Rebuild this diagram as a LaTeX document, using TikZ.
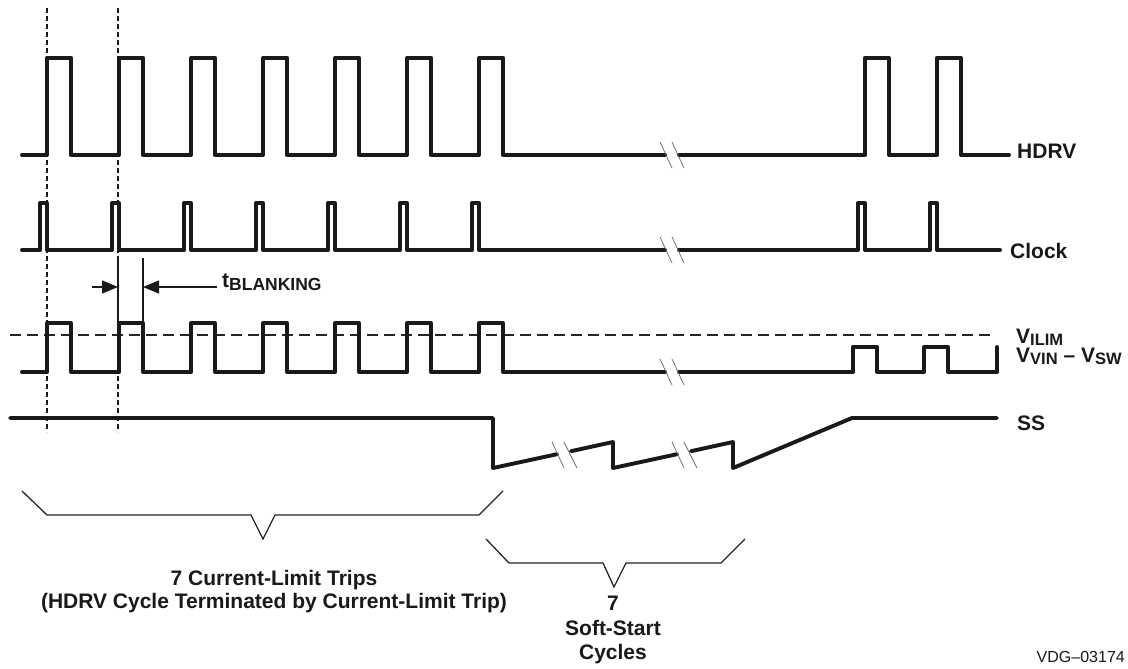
\documentclass[tikz,border=0pt]{standalone}
\usepackage{fontspec}
\setmainfont{Liberation Sans}
\usetikzlibrary{arrows.meta}
\newcommand\lblfont{\fontsize{21}{24}\selectfont\bfseries}
\newcommand\sbs[1]{\raisebox{-2pt}{\fontsize{16.5}{16.5}\selectfont #1}}
\newcommand\sbt[1]{\raisebox{-3pt}{\fontsize{17.5}{17.5}\selectfont #1}}
\begin{document}
\begin{tikzpicture}[x=1pt,y=-1pt,
  wave/.style={line width=3.9pt,line cap=round,line join=round,black!90},
  brk/.style={line width=0.7pt,black!60},
  vdash/.style={line width=1.7pt,dash pattern=on 5pt off 3pt,black!90},
  hdash/.style={line width=1.2pt,dash pattern=on 11pt off 6pt,black!85},
  thinl/.style={line width=1.4pt,black!90},
  brace/.style={line width=1.3pt,black!85},
  lbl/.style={inner sep=0pt,font=\lblfont,text=black!90},
  blk/.style={-{Triangle[length=16pt,width=13pt]},line width=1.4pt,black!90}]
\useasboundingbox (0,0) rectangle (1128,669);
\fill[white] (0,0) rectangle (1128,669);

% vertical dashed reference lines
\draw[vdash] (47,8) -- (47,432);
\draw[vdash] (118,8) -- (118,432);

% HDRV
\draw[wave] (22,155) \foreach \x in {47,119,191,263,335,407,479} { -- (\x,155) -- (\x,58) -- (\x+24,58) -- (\x+24,155) } -- (665,155);
\draw[wave] (679,155) -- (865,155) -- (865,58) -- (889,58) -- (889,155) -- (937,155) -- (937,58) -- (961,58) -- (961,155) -- (1009,155);
\draw[brk] (660,142) -- (672,168);
\draw[brk] (672,142) -- (684,168);
\node[lbl,anchor=base west] (hdrv) at (1017,158) {HDRV};

% Clock
\draw[wave] (22,250) \foreach \x in {47,119,191,263,335,407,479} { -- (\x-7,250) -- (\x-7,203) -- (\x,203) -- (\x,250) } -- (665,250);
\draw[wave] (679,250) -- (858,250) -- (858,203) -- (865,203) -- (865,250) -- (930,250) -- (930,203) -- (937,203) -- (937,250) -- (1000,250);
\draw[brk] (660,237) -- (672,263);
\draw[brk] (672,237) -- (684,263);
\node[lbl,anchor=base west] (clock) at (1010,258) {Clock};

% t blanking
\draw[thinl] (118,258) -- (118,323);
\draw[thinl] (143,258) -- (143,323);
\coordinate (bl1) at (92,287);
\coordinate (bl2) at (217,287);
\coordinate (bt1) at (118,287);
\coordinate (bt2) at (143,287);
\draw[blk] (bl1) -- (bt1);
\draw[blk] (bl2) -- (bt2);
\node[lbl,anchor=base west] (tbl) at (222,287) {t\sbt{BLANKING}};

% V ILIM dashed
\draw[hdash] (10,335) -- (992,335);

% V VIN - V SW
\draw[wave] (22,372) \foreach \x in {47,119,191,263,335,407,479} { -- (\x,372) -- (\x,323) -- (\x+24,323) -- (\x+24,372) } -- (665,372);
\draw[wave] (679,372) -- (853,372) -- (853,347) -- (877,347) -- (877,372) -- (924,372) -- (924,347) -- (948,347) -- (948,372) -- (997,372) -- (997,347);
\draw[brk] (660,359) -- (672,385);
\draw[brk] (672,359) -- (684,385);
\node[lbl,anchor=base west] (vilim) at (1016,343) {V\sbs{ILIM}};
\node[lbl,anchor=base west] (vsw) at (1016,362) {V\sbs{VIN} – V\sbs{SW}};

% SS
\draw[wave] (10,418) -- (493,418) -- (493,468) -- (557,454.2);
\draw[wave] (571,451.2) -- (613,442) -- (613,468) -- (677,454.2);
\draw[wave] (691,451.2) -- (733,442) -- (733,468) -- (852,418) -- (997,418);
\draw[brk] (552,442) -- (564,468);
\draw[brk] (564,442) -- (577,468);
\draw[brk] (672,442) -- (684,468);
\draw[brk] (684,442) -- (697,468);
\node[lbl,anchor=base west] (ss) at (1017,430) {SS};

% braces
\draw[brace] (22,491) -- (47,515) -- (251,515) -- (263,539) -- (275,515) -- (479,515) -- (503,491);
\draw[brace] (486,539) -- (509,563) -- (603,563) -- (614,587) -- (626,563) -- (721,563) -- (745,539);

\node[lbl,align=center,font=\fontsize{21}{23}\selectfont\bfseries] (trips) at (274,592) {7 Current-Limit Trips\\(HDRV Cycle Terminated by Current-Limit Trip)};
\node[lbl,align=center,font=\fontsize{21}{24.5}\selectfont\bfseries] (soft) at (613,630) {7\\Soft-Start\\Cycles};
\node[inner sep=0pt,anchor=east,font=\fontsize{16}{18}\selectfont,text=black!90] (vdg) at (1125,657) {VDG–03174};
\end{tikzpicture}
\end{document}
